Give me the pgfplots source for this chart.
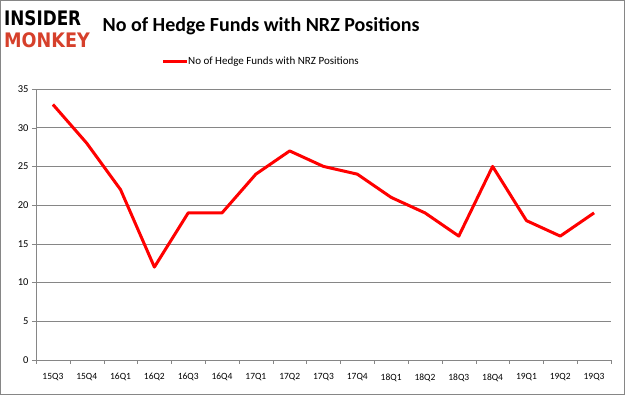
\documentclass[border=0pt]{standalone}
\usepackage{pgfplots}
\pgfplotsset{compat=1.18}
\usepackage{fontspec}
\setmainfont{Carlito}
\newfontfamily\logofont{DejaVu Sans}
\definecolor{linered}{RGB}{255,0,0}
\definecolor{gridgray}{RGB}{134,134,134}
\definecolor{monkeyred}{RGB}{214,64,43}
\begin{document}
\begin{tikzpicture}[x=1pt,y=1pt]
\draw[gridgray, line width=1pt] (0.5,0.5) rectangle (624.5,394.5);
\begin{axis}[
  at={(36pt,35pt)}, anchor=south west,
  scale only axis, width=575pt, height=271pt,
  xmin=-0.5, xmax=16.5, ymin=0, ymax=35,
  xtick={0,...,16},
  xticklabels={15Q3,15Q4,16Q1,16Q2,16Q3,16Q4,17Q1,17Q2,17Q3,17Q4,18Q1,18Q2,18Q3,18Q4,19Q1,19Q2,19Q3},
  major x tick style={draw=none},
  minor xtick={-0.5,0.5,...,16.5},
  minor tick length=4pt,
  minor x tick style={gridgray},
  ytick={0,5,...,35},
  major tick length=4pt,
  tick align=outside,
  ytick style={gridgray},
  tick pos=left,
  ymajorgrids, grid style={gridgray, line width=0.6pt},
  axis x line*=bottom, axis y line*=left,
  axis line style={gridgray, line width=0.8pt},
  x axis line style={-}, y axis line style={-},
  xticklabel style={font=\fontsize{9.5}{10}\selectfont, text=black, yshift=-6pt},
  yticklabel style={font=\fontsize{10.5}{11}\selectfont, text=black},
  /pgf/number format/assume math mode=true,
  clip=false,
]
\addplot[linered, line width=3pt, line join=round] coordinates {
(0,33)(1,28)(2,22)(3,12)(4,19)(5,19)(6,24)(7,27)(8,25)(9,24)(10,21)(11,19)(12,16)(13,25)(14,18)(15,16)(16,19)};
\end{axis}
\node[anchor=center, font=\fontsize{20}{22}\selectfont\bfseries] at (261,369) {No of Hedge Funds with NRZ Positions};
\draw[linered, line width=3pt] (163,333) -- (187,333);
\node[anchor=west, inner sep=0pt, font=\fontsize{11}{12}\selectfont] at (188,333) {No of Hedge Funds with NRZ Positions};
\node[anchor=west, inner sep=0pt, xscale=0.84, font=\logofont\bfseries\fontsize{20}{20}\selectfont, text=black] at (4,376.5) {INSIDER};
\node[anchor=west, inner sep=0pt, xscale=0.88, font=\logofont\bfseries\fontsize{20}{20}\selectfont, text=monkeyred] at (4,355) {MONKEY};
\end{tikzpicture}
\end{document}
